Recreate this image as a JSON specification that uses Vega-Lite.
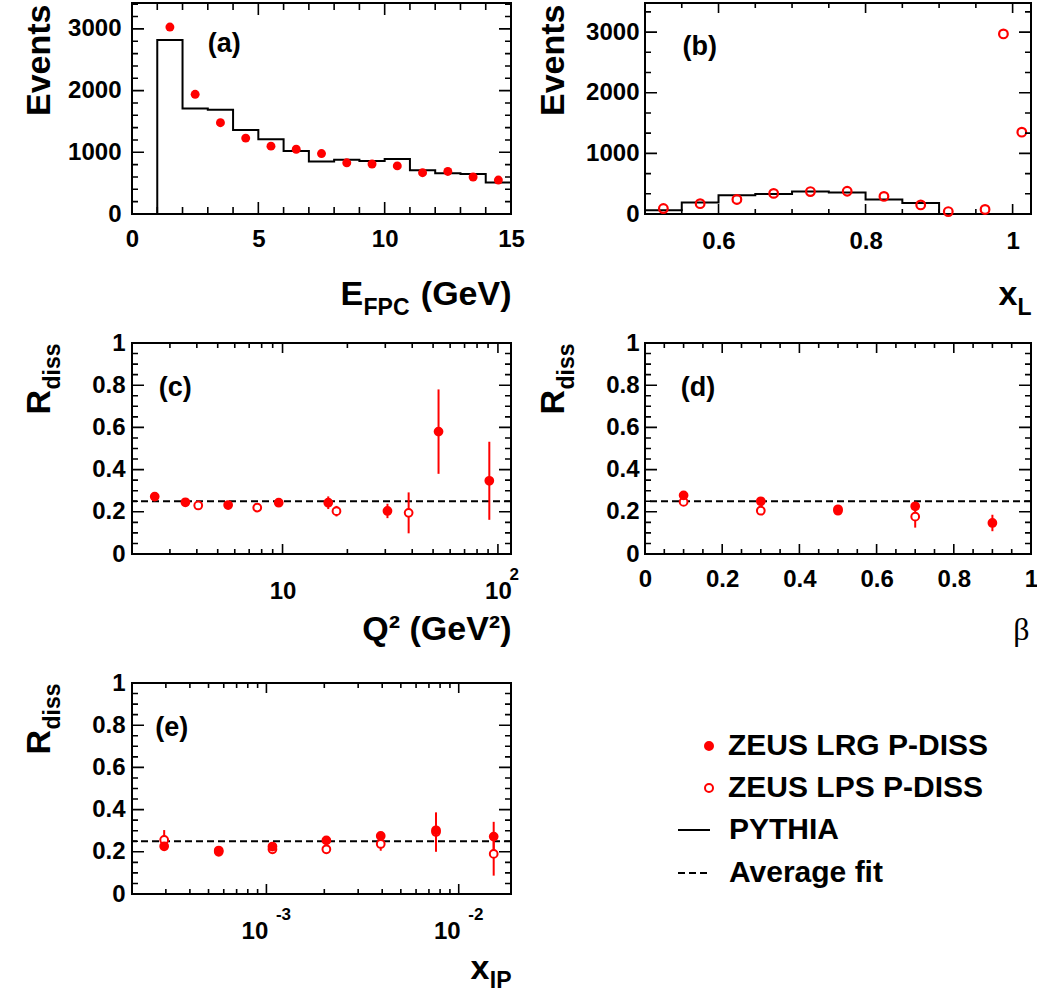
{
  "$schema": "https://vega.github.io/schema/vega-lite/v6.json",
  "background": "white",
  "padding": {"left": 21, "top": 1, "right": 5, "bottom": 5},
  "columns": 2,
  "spacing": {"row": 129, "column": 134},
  "bounds": "flush",
  "datasets": {
    "a_hist": [
      {"e": 0, "n": 0}, {"e": 1, "n": 2820}, {"e": 2, "n": 1710}, {"e": 3, "n": 1690}, {"e": 4, "n": 1360},
      {"e": 5, "n": 1210}, {"e": 6, "n": 1020}, {"e": 7, "n": 850}, {"e": 8, "n": 880}, {"e": 9, "n": 860},
      {"e": 10, "n": 890}, {"e": 11, "n": 710}, {"e": 12, "n": 660}, {"e": 13, "n": 650}, {"e": 14, "n": 510},
      {"e": 15, "n": 510}
    ],
    "a_pts": [
      {"x": 1.5, "n": 3030}, {"x": 2.5, "n": 1940}, {"x": 3.5, "n": 1480}, {"x": 4.5, "n": 1230},
      {"x": 5.5, "n": 1100}, {"x": 6.5, "n": 1050}, {"x": 7.5, "n": 980}, {"x": 8.5, "n": 830},
      {"x": 9.5, "n": 810}, {"x": 10.5, "n": 780}, {"x": 11.5, "n": 670}, {"x": 12.5, "n": 690},
      {"x": 13.5, "n": 600}, {"x": 14.5, "n": 550}
    ],
    "b_hist": [
      {"x": 0.5, "n": 60}, {"x": 0.55, "n": 190}, {"x": 0.6, "n": 310}, {"x": 0.65, "n": 330},
      {"x": 0.7, "n": 370}, {"x": 0.75, "n": 355}, {"x": 0.8, "n": 240}, {"x": 0.85, "n": 180},
      {"x": 0.9, "n": 0}
    ],
    "b_pts": [
      {"x": 0.525, "n": 90}, {"x": 0.575, "n": 170}, {"x": 0.625, "n": 240}, {"x": 0.675, "n": 340},
      {"x": 0.725, "n": 370}, {"x": 0.775, "n": 375}, {"x": 0.825, "n": 290}, {"x": 0.875, "n": 150},
      {"x": 0.9125, "n": 40}, {"x": 0.9625, "n": 75}, {"x": 0.9875, "n": 2970}, {"x": 1.0125, "n": 1350}
    ],
    "fit": [{"r": 0.25, "series": "Average fit"}],
    "lab_a": [{"t": "(a)"}],
    "lab_b": [{"t": "(b)"}],
    "lab_c": [{"t": "(c)"}],
    "lab_d": [{"t": "(d)"}],
    "lab_e": [{"t": "(e)"}],
    "tk_a_x": [
      {"v": 0, "k": "major"}, {"v": 1, "k": "minor"}, {"v": 2, "k": "minor"}, {"v": 3, "k": "minor"}, {"v": 4, "k": "minor"},
      {"v": 5, "k": "major"}, {"v": 6, "k": "minor"}, {"v": 7, "k": "minor"}, {"v": 8, "k": "minor"}, {"v": 9, "k": "minor"},
      {"v": 10, "k": "major"}, {"v": 11, "k": "minor"}, {"v": 12, "k": "minor"}, {"v": 13, "k": "minor"}, {"v": 14, "k": "minor"},
      {"v": 15, "k": "major"}
    ],
    "tk_a_y": [
      {"v": 0, "k": "major"}, {"v": 200, "k": "minor"}, {"v": 400, "k": "minor"}, {"v": 600, "k": "minor"}, {"v": 800, "k": "minor"},
      {"v": 1000, "k": "major"}, {"v": 1200, "k": "minor"}, {"v": 1400, "k": "minor"}, {"v": 1600, "k": "minor"}, {"v": 1800, "k": "minor"},
      {"v": 2000, "k": "major"}, {"v": 2200, "k": "minor"}, {"v": 2400, "k": "minor"}, {"v": 2600, "k": "minor"}, {"v": 2800, "k": "minor"},
      {"v": 3000, "k": "major"}, {"v": 3200, "k": "minor"}, {"v": 3400, "k": "minor"}
    ],
    "tk_b_x": [
      {"v": 0.5, "k": "minor"}, {"v": 0.55, "k": "minor"}, {"v": 0.6, "k": "major"}, {"v": 0.65, "k": "minor"},
      {"v": 0.7, "k": "minor"}, {"v": 0.75, "k": "minor"}, {"v": 0.8, "k": "major"}, {"v": 0.85, "k": "minor"},
      {"v": 0.9, "k": "minor"}, {"v": 0.95, "k": "minor"}, {"v": 1, "k": "major"}
    ],
    "tk_b_y": [
      {"v": 0, "k": "major"}, {"v": 333.333, "k": "minor"}, {"v": 666.667, "k": "minor"},
      {"v": 1000, "k": "major"}, {"v": 1333.333, "k": "minor"}, {"v": 1666.667, "k": "minor"},
      {"v": 2000, "k": "major"}, {"v": 2333.333, "k": "minor"}, {"v": 2666.667, "k": "minor"},
      {"v": 3000, "k": "major"}, {"v": 3333.333, "k": "minor"}
    ],
    "tk_r": [
      {"v": 0, "k": "major"}, {"v": 0.05, "k": "minor"}, {"v": 0.1, "k": "minor"}, {"v": 0.15, "k": "minor"},
      {"v": 0.2, "k": "major"}, {"v": 0.25, "k": "minor"}, {"v": 0.3, "k": "minor"}, {"v": 0.35, "k": "minor"},
      {"v": 0.4, "k": "major"}, {"v": 0.45, "k": "minor"}, {"v": 0.5, "k": "minor"}, {"v": 0.55, "k": "minor"},
      {"v": 0.6, "k": "major"}, {"v": 0.65, "k": "minor"}, {"v": 0.7, "k": "minor"}, {"v": 0.75, "k": "minor"},
      {"v": 0.8, "k": "major"}, {"v": 0.85, "k": "minor"}, {"v": 0.9, "k": "minor"}, {"v": 0.95, "k": "minor"},
      {"v": 1, "k": "major"}
    ],
    "tk_c_x": [
      {"v": 2, "k": "minor"}, {"v": 3, "k": "minor"}, {"v": 4, "k": "minor"}, {"v": 5, "k": "minor"},
      {"v": 6, "k": "minor"}, {"v": 7, "k": "minor"}, {"v": 8, "k": "minor"}, {"v": 9, "k": "minor"},
      {"v": 10, "k": "major"}, {"v": 20, "k": "minor"}, {"v": 30, "k": "minor"}, {"v": 40, "k": "minor"},
      {"v": 50, "k": "minor"}, {"v": 60, "k": "minor"}, {"v": 70, "k": "minor"}, {"v": 80, "k": "minor"},
      {"v": 90, "k": "minor"}, {"v": 100, "k": "major"}
    ],
    "tk_e_x": [
      {"v": 0.0002, "k": "minor"}, {"v": 0.0003, "k": "minor"}, {"v": 0.0004, "k": "minor"}, {"v": 0.0005, "k": "minor"},
      {"v": 0.0006, "k": "minor"}, {"v": 0.0007, "k": "minor"}, {"v": 0.0008, "k": "minor"}, {"v": 0.0009, "k": "minor"},
      {"v": 0.001, "k": "major"}, {"v": 0.002, "k": "minor"}, {"v": 0.003, "k": "minor"}, {"v": 0.004, "k": "minor"},
      {"v": 0.005, "k": "minor"}, {"v": 0.006, "k": "minor"}, {"v": 0.007, "k": "minor"}, {"v": 0.008, "k": "minor"},
      {"v": 0.009, "k": "minor"}, {"v": 0.01, "k": "major"}
    ],
    "c": [
      {"q": 4.06, "r": 0.23, "lo": 0.222, "hi": 0.238, "series": "ZEUS LPS P-DISS"},
      {"q": 7.63, "r": 0.22, "lo": 0.212, "hi": 0.228, "series": "ZEUS LPS P-DISS"},
      {"q": 17.8, "r": 0.203, "lo": 0.178, "hi": 0.228, "series": "ZEUS LPS P-DISS"},
      {"q": 38.5, "r": 0.195, "lo": 0.098, "hi": 0.292, "series": "ZEUS LPS P-DISS"},
      {"q": 2.55, "r": 0.272, "lo": 0.262, "hi": 0.282, "series": "ZEUS LRG P-DISS"},
      {"q": 3.54, "r": 0.245, "lo": 0.237, "hi": 0.253, "series": "ZEUS LRG P-DISS"},
      {"q": 5.59, "r": 0.232, "lo": 0.224, "hi": 0.24, "series": "ZEUS LRG P-DISS"},
      {"q": 9.6, "r": 0.243, "lo": 0.235, "hi": 0.251, "series": "ZEUS LRG P-DISS"},
      {"q": 16.3, "r": 0.243, "lo": 0.213, "hi": 0.273, "series": "ZEUS LRG P-DISS"},
      {"q": 30.7, "r": 0.204, "lo": 0.17, "hi": 0.238, "series": "ZEUS LRG P-DISS"},
      {"q": 53, "r": 0.58, "lo": 0.38, "hi": 0.78, "series": "ZEUS LRG P-DISS"},
      {"q": 91.2, "r": 0.347, "lo": 0.162, "hi": 0.532, "series": "ZEUS LRG P-DISS"}
    ],
    "d": [
      {"b": 0.1, "r": 0.247, "lo": 0.24, "hi": 0.254, "series": "ZEUS LPS P-DISS"},
      {"b": 0.3, "r": 0.205, "lo": 0.185, "hi": 0.225, "series": "ZEUS LPS P-DISS"},
      {"b": 0.5, "r": 0.212, "lo": 0.2, "hi": 0.224, "series": "ZEUS LPS P-DISS"},
      {"b": 0.7, "r": 0.177, "lo": 0.125, "hi": 0.225, "series": "ZEUS LPS P-DISS"},
      {"b": 0.1, "r": 0.278, "lo": 0.27, "hi": 0.286, "series": "ZEUS LRG P-DISS"},
      {"b": 0.3, "r": 0.25, "lo": 0.242, "hi": 0.258, "series": "ZEUS LRG P-DISS"},
      {"b": 0.5, "r": 0.205, "lo": 0.188, "hi": 0.232, "series": "ZEUS LRG P-DISS"},
      {"b": 0.7, "r": 0.226, "lo": 0.218, "hi": 0.234, "series": "ZEUS LRG P-DISS"},
      {"b": 0.9, "r": 0.147, "lo": 0.108, "hi": 0.186, "series": "ZEUS LRG P-DISS"}
    ],
    "e": [
      {"xp": 0.000294, "r": 0.256, "lo": 0.21, "hi": 0.303, "series": "ZEUS LPS P-DISS"},
      {"xp": 0.000565, "r": 0.2, "lo": 0.19, "hi": 0.21, "series": "ZEUS LPS P-DISS"},
      {"xp": 0.001075, "r": 0.212, "lo": 0.202, "hi": 0.222, "series": "ZEUS LPS P-DISS"},
      {"xp": 0.00205, "r": 0.212, "lo": 0.202, "hi": 0.222, "series": "ZEUS LPS P-DISS"},
      {"xp": 0.00393, "r": 0.237, "lo": 0.205, "hi": 0.265, "series": "ZEUS LPS P-DISS"},
      {"xp": 0.00762, "r": 0.294, "lo": 0.2, "hi": 0.387, "series": "ZEUS LPS P-DISS"},
      {"xp": 0.0152, "r": 0.19, "lo": 0.087, "hi": 0.293, "series": "ZEUS LPS P-DISS"},
      {"xp": 0.000294, "r": 0.226, "lo": 0.218, "hi": 0.234, "series": "ZEUS LRG P-DISS"},
      {"xp": 0.000565, "r": 0.206, "lo": 0.198, "hi": 0.214, "series": "ZEUS LRG P-DISS"},
      {"xp": 0.001075, "r": 0.225, "lo": 0.217, "hi": 0.233, "series": "ZEUS LRG P-DISS"},
      {"xp": 0.00205, "r": 0.254, "lo": 0.246, "hi": 0.262, "series": "ZEUS LRG P-DISS"},
      {"xp": 0.00393, "r": 0.275, "lo": 0.267, "hi": 0.283, "series": "ZEUS LRG P-DISS"},
      {"xp": 0.00762, "r": 0.302, "lo": 0.26, "hi": 0.345, "series": "ZEUS LRG P-DISS"},
      {"xp": 0.0152, "r": 0.272, "lo": 0.2, "hi": 0.342, "series": "ZEUS LRG P-DISS"}
    ]
  },
  "concat": [
    {
      "width": 379, "height": 211,
      "resolve": {"axis": {"x": "independent", "y": "independent"}},
      "layer": [
        {
          "data": {"name": "a_hist"},
          "mark": {"type": "line", "interpolate": "step-after", "color": "black", "strokeWidth": 2},
          "encoding": {
            "x": {"field": "e", "type": "quantitative", "scale": {"domain": [0, 15], "nice": false, "zero": false},
              "axis": {"orient": "bottom", "values": [0, 5, 10, 15], "format": "d", "tickSize": 0, "tickOpacity": 0,
                "labelPadding": 32, "labelBaseline": "alphabetic",
                "title": "E", "titleFontSize": 34, "titleX": 208, "titleY": 90, "titleAlign": "left", "titleBaseline": "alphabetic", "titleAngle": 0}},
            "y": {"field": "n", "type": "quantitative", "scale": {"domain": [0, 3420], "nice": false},
              "axis": {"orient": "left", "values": [0, 1000, 2000, 3000], "format": "d", "tickSize": 0, "tickOpacity": 0,
                "labelPadding": 11,
                "title": "Events", "titleFontSize": 34, "titleX": -83, "titleY": 1, "titleAlign": "right", "titleBaseline": "alphabetic", "titleAngle": 270}}
          }
        },
        {
          "data": {"name": "a_pts"},
          "mark": {"type": "circle", "color": "red", "size": 80, "opacity": 1},
          "encoding": {
            "x": {"field": "x", "type": "quantitative", "scale": {"domain": [0, 15], "nice": false, "zero": false},
              "axis": {"orient": "top", "ticks": false, "labels": false,
                "title": "(GeV)", "titleFontSize": 34, "titleX": 379, "titleY": 301, "titleAlign": "right", "titleBaseline": "alphabetic", "titleAngle": 0}},
            "y": {"field": "n", "type": "quantitative", "scale": {"domain": [0, 3420], "nice": false}, "axis": null}
          }
        },
        {
          "data": {"name": "lab_a"},
          "mark": {"type": "text", "font": "Liberation Sans", "fontWeight": "bold", "fontSize": 27, "align": "left", "baseline": "alphabetic", "color": "black"},
          "encoding": {
            "text": {"field": "t", "type": "nominal"},
            "x": {"datum": 3.0, "axis": {"orient": "bottom", "ticks": false, "labels": false,
              "title": "FPC", "titleFontSize": 23, "titleX": 231, "titleY": 100, "titleAlign": "left", "titleBaseline": "alphabetic", "titleAngle": 0}},
            "y": {"datum": 2620, "axis": null}
          }
        },
        {
          "data": {"name": "tk_a_y"}, "transform": [{"filter": "datum.k === 'major'"}],
          "mark": {"type": "rule", "color": "black", "strokeWidth": 1.6, "strokeDash": [12, 355, 12]},
          "encoding": {"y": {"field": "v", "type": "quantitative", "scale": {"domain": [0, 3420], "nice": false}, "axis": null}}
        },
        {
          "data": {"name": "tk_a_y"}, "transform": [{"filter": "datum.k === 'minor'"}],
          "mark": {"type": "rule", "color": "black", "strokeWidth": 1.6, "strokeDash": [6, 367, 6]},
          "encoding": {"y": {"field": "v", "type": "quantitative", "scale": {"domain": [0, 3420], "nice": false}, "axis": null}}
        },
        {
          "data": {"name": "tk_a_x"}, "transform": [{"filter": "datum.k === 'major'"}],
          "mark": {"type": "rule", "color": "black", "strokeWidth": 1.6, "strokeDash": [12, 187, 12]},
          "encoding": {"x": {"field": "v", "type": "quantitative", "scale": {"domain": [0, 15], "nice": false, "zero": false}, "axis": null}}
        },
        {
          "data": {"name": "tk_a_x"}, "transform": [{"filter": "datum.k === 'minor'"}],
          "mark": {"type": "rule", "color": "black", "strokeWidth": 1.6, "strokeDash": [7, 197, 7]},
          "encoding": {"x": {"field": "v", "type": "quantitative", "scale": {"domain": [0, 15], "nice": false, "zero": false}, "axis": null}}
        }
      ]
    },
    {
      "width": 386, "height": 211,
      "resolve": {"axis": {"x": "independent", "y": "independent"}},
      "layer": [
        {
          "data": {"name": "b_hist"},
          "mark": {"type": "line", "interpolate": "step-after", "color": "black", "strokeWidth": 2},
          "encoding": {
            "x": {"field": "x", "type": "quantitative", "scale": {"domain": [0.5, 1.025], "nice": false, "zero": false},
              "axis": {"orient": "bottom", "values": [0.6, 0.8, 1], "format": "~g", "tickSize": 0, "tickOpacity": 0,
                "labelPadding": 34, "labelBaseline": "alphabetic",
                "title": "x", "titleFontSize": 34, "titleX": 353, "titleY": 90, "titleAlign": "left", "titleBaseline": "alphabetic", "titleAngle": 0}},
            "y": {"field": "n", "type": "quantitative", "scale": {"domain": [0, 3480], "nice": false},
              "axis": {"orient": "left", "values": [0, 1000, 2000, 3000], "format": "d", "tickSize": 0, "tickOpacity": 0,
                "labelPadding": 6,
                "title": "Events", "titleFontSize": 34, "titleX": -82, "titleY": 1, "titleAlign": "right", "titleBaseline": "alphabetic", "titleAngle": 270}}
          }
        },
        {
          "data": {"name": "b_pts"},
          "mark": {"type": "point", "shape": "circle", "filled": false, "color": "red", "strokeWidth": 2.2, "size": 75, "opacity": 1},
          "encoding": {
            "x": {"field": "x", "type": "quantitative", "scale": {"domain": [0.5, 1.025], "nice": false, "zero": false}, "axis": null},
            "y": {"field": "n", "type": "quantitative", "scale": {"domain": [0, 3480], "nice": false}, "axis": null}
          }
        },
        {
          "data": {"name": "lab_b"},
          "mark": {"type": "text", "font": "Liberation Sans", "fontWeight": "bold", "fontSize": 27, "align": "left", "baseline": "alphabetic", "color": "black"},
          "encoding": {
            "text": {"field": "t", "type": "nominal"},
            "x": {"datum": 0.551, "axis": {"orient": "bottom", "ticks": false, "labels": false,
              "title": "L", "titleFontSize": 23, "titleX": 372, "titleY": 100, "titleAlign": "left", "titleBaseline": "alphabetic", "titleAngle": 0}},
            "y": {"datum": 2620, "axis": null}
          }
        },
        {
          "data": {"name": "tk_b_y"}, "transform": [{"filter": "datum.k === 'major'"}],
          "mark": {"type": "rule", "color": "black", "strokeWidth": 1.6, "strokeDash": [12, 362, 12]},
          "encoding": {"y": {"field": "v", "type": "quantitative", "scale": {"domain": [0, 3480], "nice": false}, "axis": null}}
        },
        {
          "data": {"name": "tk_b_y"}, "transform": [{"filter": "datum.k === 'minor'"}],
          "mark": {"type": "rule", "color": "black", "strokeWidth": 1.6, "strokeDash": [6, 374, 6]},
          "encoding": {"y": {"field": "v", "type": "quantitative", "scale": {"domain": [0, 3480], "nice": false}, "axis": null}}
        },
        {
          "data": {"name": "tk_b_x"}, "transform": [{"filter": "datum.k === 'major'"}],
          "mark": {"type": "rule", "color": "black", "strokeWidth": 1.6, "strokeDash": [10, 191, 10]},
          "encoding": {"x": {"field": "v", "type": "quantitative", "scale": {"domain": [0.5, 1.025], "nice": false, "zero": false}, "axis": null}}
        },
        {
          "data": {"name": "tk_b_x"}, "transform": [{"filter": "datum.k === 'minor'"}],
          "mark": {"type": "rule", "color": "black", "strokeWidth": 1.6, "strokeDash": [5, 201, 5]},
          "encoding": {"x": {"field": "v", "type": "quantitative", "scale": {"domain": [0.5, 1.025], "nice": false, "zero": false}, "axis": null}}
        }
      ]
    },
    {
      "width": 379, "height": 211,
      "resolve": {"axis": {"x": "independent", "y": "independent"}},
      "layer": [
        {
          "data": {"name": "fit"},
          "mark": {"type": "rule", "color": "black", "strokeWidth": 2, "strokeDash": [7, 4]},
          "encoding": {
            "y": {"field": "r", "type": "quantitative", "scale": {"domain": [0, 1], "nice": false},
              "axis": {"orient": "left", "values": [0, 0.2, 0.4, 0.6, 0.8, 1], "format": "~g", "tickSize": 0, "tickOpacity": 0,
                "labelPadding": 7,
                "title": "R", "titleFontSize": 34, "titleX": -83, "titleY": 71, "titleAlign": "left", "titleBaseline": "alphabetic", "titleAngle": 270}}
          }
        },
        {
          "data": {"name": "c"},
          "mark": {"type": "rule", "color": "red", "strokeWidth": 2},
          "encoding": {
            "x": {"field": "q", "type": "quantitative", "scale": {"type": "log", "domain": [2, 115], "nice": false},
              "axis": {"orient": "bottom", "values": [10, 100], "labelExpr": "'10'", "tickSize": 0, "tickOpacity": 0,
                "labelPadding": 44, "labelBaseline": "alphabetic",
                "title": "Q² (GeV²)", "titleFontSize": 34, "titleX": 379, "titleY": 85, "titleAlign": "right", "titleBaseline": "alphabetic", "titleAngle": 0}},
            "y": {"field": "lo", "type": "quantitative", "scale": {"domain": [0, 1], "nice": false}, "axis": null},
            "y2": {"field": "hi"}
          }
        },
        {
          "data": {"name": "c"},
          "mark": {"type": "point", "filled": true, "strokeWidth": 2, "size": 60, "opacity": 1, "shape": "circle"},
          "encoding": {
            "x": {"field": "q", "type": "quantitative", "scale": {"type": "log", "domain": [2, 115], "nice": false}, "axis": null},
            "y": {"field": "r", "type": "quantitative", "scale": {"domain": [0, 1], "nice": false},
              "axis": {"orient": "left", "ticks": false, "labels": false,
                "title": "diss", "titleFontSize": 23, "titleX": -73, "titleY": 46, "titleAlign": "left", "titleBaseline": "alphabetic", "titleAngle": 270}},
            "fill": {"field": "series", "type": "nominal",
              "scale": {"domain": ["ZEUS LRG P-DISS", "ZEUS LPS P-DISS"], "range": ["red", "white"]},
              "legend": {"orient": "none", "legendX": 562, "legendY": 728, "title": null, "padding": 0,
                "labelFont": "Liberation Sans", "labelFontWeight": "bold", "labelFontSize": 30, "labelColor": "black", "labelLimit": 0,
                "symbolType": "circle", "symbolSize": 64, "symbolStrokeWidth": 2, "symbolStrokeColor": "red", "symbolOpacity": 1,
                "rowPadding": 12, "labelOffset": 4}},
            "stroke": {"value": "red"}
          }
        },
        {
          "data": {"name": "lab_c"},
          "mark": {"type": "text", "font": "Liberation Sans", "fontWeight": "bold", "fontSize": 27, "align": "left", "baseline": "alphabetic", "color": "black"},
          "encoding": {
            "text": {"field": "t", "type": "nominal"},
            "x": {"datum": 2.66, "axis": {"orient": "bottom", "values": [100], "tickSize": 0, "tickOpacity": 0,
              "labelExpr": "'2'", "labelFontSize": 17, "labelPadding": 25, "labelBaseline": "alphabetic", "labelAlign": "left", "labelOffset": 11, "title": null}},
            "y": {"datum": 0.747, "axis": null}
          }
        },
        {
          "data": {"name": "tk_r"}, "transform": [{"filter": "datum.k === 'major'"}],
          "mark": {"type": "rule", "color": "black", "strokeWidth": 1.6, "strokeDash": [12, 355, 12]},
          "encoding": {"y": {"field": "v", "type": "quantitative", "scale": {"domain": [0, 1], "nice": false}, "axis": null}}
        },
        {
          "data": {"name": "tk_r"}, "transform": [{"filter": "datum.k === 'minor'"}],
          "mark": {"type": "rule", "color": "black", "strokeWidth": 1.6, "strokeDash": [6, 367, 6]},
          "encoding": {"y": {"field": "v", "type": "quantitative", "scale": {"domain": [0, 1], "nice": false}, "axis": null}}
        },
        {
          "data": {"name": "tk_c_x"}, "transform": [{"filter": "datum.k === 'major'"}],
          "mark": {"type": "rule", "color": "black", "strokeWidth": 1.6, "strokeDash": [10, 191, 10]},
          "encoding": {"x": {"field": "v", "type": "quantitative", "scale": {"type": "log", "domain": [2, 115], "nice": false}, "axis": null}}
        },
        {
          "data": {"name": "tk_c_x"}, "transform": [{"filter": "datum.k === 'minor'"}],
          "mark": {"type": "rule", "color": "black", "strokeWidth": 1.6, "strokeDash": [5, 201, 5]},
          "encoding": {"x": {"field": "v", "type": "quantitative", "scale": {"type": "log", "domain": [2, 115], "nice": false}, "axis": null}}
        }
      ]
    },
    {
      "width": 386, "height": 211,
      "resolve": {"axis": {"x": "independent", "y": "independent"}},
      "layer": [
        {
          "data": {"name": "fit"},
          "mark": {"type": "rule", "color": "black", "strokeWidth": 2, "strokeDash": [7, 4]},
          "encoding": {
            "y": {"field": "r", "type": "quantitative", "scale": {"domain": [0, 1], "nice": false},
              "axis": {"orient": "left", "values": [0, 0.2, 0.4, 0.6, 0.8, 1], "format": "~g", "tickSize": 0, "tickOpacity": 0,
                "labelPadding": 6,
                "title": "R", "titleFontSize": 34, "titleX": -82, "titleY": 71, "titleAlign": "left", "titleBaseline": "alphabetic", "titleAngle": 270}}
          }
        },
        {
          "data": {"name": "d"},
          "mark": {"type": "rule", "color": "red", "strokeWidth": 2},
          "encoding": {
            "x": {"field": "b", "type": "quantitative", "scale": {"domain": [0, 1], "nice": false},
              "axis": {"orient": "bottom", "values": [0, 0.2, 0.4, 0.6, 0.8, 1], "format": "~g", "tickSize": 0, "tickOpacity": 0,
                "labelPadding": 32, "labelBaseline": "alphabetic",
                "title": "β", "titleFont": "Liberation Serif", "titleFontWeight": "normal", "titleFontSize": 32, "titleX": 384, "titleY": 85, "titleAlign": "right", "titleBaseline": "alphabetic", "titleAngle": 0}},
            "y": {"field": "lo", "type": "quantitative", "scale": {"domain": [0, 1], "nice": false}, "axis": null},
            "y2": {"field": "hi"}
          }
        },
        {
          "data": {"name": "d"},
          "mark": {"type": "point", "filled": true, "strokeWidth": 2, "size": 60, "opacity": 1, "shape": "circle"},
          "encoding": {
            "x": {"field": "b", "type": "quantitative", "scale": {"domain": [0, 1], "nice": false}, "axis": null},
            "y": {"field": "r", "type": "quantitative", "scale": {"domain": [0, 1], "nice": false},
              "axis": {"orient": "left", "ticks": false, "labels": false,
                "title": "diss", "titleFontSize": 23, "titleX": -72, "titleY": 46, "titleAlign": "left", "titleBaseline": "alphabetic", "titleAngle": 270}},
            "fill": {"field": "series", "type": "nominal",
              "scale": {"domain": ["ZEUS LRG P-DISS", "ZEUS LPS P-DISS"], "range": ["red", "white"]},
              "legend": {"orient": "none", "legendX": 562, "legendY": 728, "title": null, "padding": 0,
                "labelFont": "Liberation Sans", "labelFontWeight": "bold", "labelFontSize": 30, "labelColor": "black", "labelLimit": 0,
                "symbolType": "circle", "symbolSize": 64, "symbolStrokeWidth": 2, "symbolStrokeColor": "red", "symbolOpacity": 1,
                "rowPadding": 12, "labelOffset": 4}},
            "stroke": {"value": "red"}
          }
        },
        {
          "data": {"name": "lab_d"},
          "mark": {"type": "text", "font": "Liberation Sans", "fontWeight": "bold", "fontSize": 27, "align": "left", "baseline": "alphabetic", "color": "black"},
          "encoding": {
            "text": {"field": "t", "type": "nominal"},
            "x": {"datum": 0.0926, "axis": null},
            "y": {"datum": 0.747, "axis": null}
          }
        },
        {
          "data": {"name": "tk_r"}, "transform": [{"filter": "datum.k === 'major'"}],
          "mark": {"type": "rule", "color": "black", "strokeWidth": 1.6, "strokeDash": [12, 362, 12]},
          "encoding": {"y": {"field": "v", "type": "quantitative", "scale": {"domain": [0, 1], "nice": false}, "axis": null}}
        },
        {
          "data": {"name": "tk_r"}, "transform": [{"filter": "datum.k === 'minor'"}],
          "mark": {"type": "rule", "color": "black", "strokeWidth": 1.6, "strokeDash": [6, 374, 6]},
          "encoding": {"y": {"field": "v", "type": "quantitative", "scale": {"domain": [0, 1], "nice": false}, "axis": null}}
        },
        {
          "data": {"name": "tk_r"}, "transform": [{"filter": "datum.k === 'major'"}],
          "mark": {"type": "rule", "color": "black", "strokeWidth": 1.6, "strokeDash": [10, 191, 10]},
          "encoding": {"x": {"field": "v", "type": "quantitative", "scale": {"domain": [0, 1], "nice": false}, "axis": null}}
        },
        {
          "data": {"name": "tk_r"}, "transform": [{"filter": "datum.k === 'minor'"}],
          "mark": {"type": "rule", "color": "black", "strokeWidth": 1.6, "strokeDash": [5, 201, 5]},
          "encoding": {"x": {"field": "v", "type": "quantitative", "scale": {"domain": [0, 1], "nice": false}, "axis": null}}
        }
      ]
    },
    {
      "width": 379, "height": 211,
      "resolve": {"axis": {"x": "independent", "y": "independent"}},
      "layer": [
        {
          "data": {"name": "fit"},
          "mark": {"type": "rule", "color": "black", "strokeWidth": 2},
          "encoding": {
            "y": {"field": "r", "type": "quantitative", "scale": {"domain": [0, 1], "nice": false},
              "axis": {"orient": "left", "values": [0, 0.2, 0.4, 0.6, 0.8, 1], "format": "~g", "tickSize": 0, "tickOpacity": 0,
                "labelPadding": 7,
                "title": "R", "titleFontSize": 34, "titleX": -83, "titleY": 71, "titleAlign": "left", "titleBaseline": "alphabetic", "titleAngle": 270}},
            "strokeDash": {"field": "series", "type": "nominal",
              "scale": {"domain": ["PYTHIA", "Average fit"], "range": [[1, 0], [7, 4]]},
              "legend": {"orient": "none", "legendX": 545, "legendY": 810, "title": null, "padding": 0,
                "labelFont": "Liberation Sans", "labelFontWeight": "bold", "labelFontSize": 30, "labelColor": "black", "labelLimit": 0,
                "symbolType": "stroke", "symbolSize": 1024, "symbolStrokeWidth": 2, "symbolStrokeColor": "black", "symbolOpacity": 1,
                "rowPadding": 11, "labelOffset": 18}}
          }
        },
        {
          "data": {"name": "e"},
          "mark": {"type": "rule", "color": "red", "strokeWidth": 2},
          "encoding": {
            "x": {"field": "xp", "type": "quantitative", "scale": {"type": "log", "domain": [0.0002, 0.0187], "nice": false},
              "axis": {"orient": "bottom", "values": [0.001, 0.01], "labelExpr": "'10'", "tickSize": 0, "tickOpacity": 0,
                "labelPadding": 44, "labelBaseline": "alphabetic", "labelOffset": -12,
                "title": "x", "titleFontSize": 34, "titleX": 338, "titleY": 84, "titleAlign": "left", "titleBaseline": "alphabetic", "titleAngle": 0}},
            "y": {"field": "lo", "type": "quantitative", "scale": {"domain": [0, 1], "nice": false}, "axis": null},
            "y2": {"field": "hi"}
          }
        },
        {
          "data": {"name": "e"},
          "mark": {"type": "point", "filled": true, "strokeWidth": 2, "size": 60, "opacity": 1, "shape": "circle"},
          "encoding": {
            "x": {"field": "xp", "type": "quantitative", "scale": {"type": "log", "domain": [0.0002, 0.0187], "nice": false}, "axis": null},
            "y": {"field": "r", "type": "quantitative", "scale": {"domain": [0, 1], "nice": false},
              "axis": {"orient": "left", "ticks": false, "labels": false,
                "title": "diss", "titleFontSize": 23, "titleX": -73, "titleY": 46, "titleAlign": "left", "titleBaseline": "alphabetic", "titleAngle": 270}},
            "fill": {"field": "series", "type": "nominal",
              "scale": {"domain": ["ZEUS LRG P-DISS", "ZEUS LPS P-DISS"], "range": ["red", "white"]},
              "legend": {"orient": "none", "legendX": 562, "legendY": 728, "title": null, "padding": 0,
                "labelFont": "Liberation Sans", "labelFontWeight": "bold", "labelFontSize": 30, "labelColor": "black", "labelLimit": 0,
                "symbolType": "circle", "symbolSize": 64, "symbolStrokeWidth": 2, "symbolStrokeColor": "red", "symbolOpacity": 1,
                "rowPadding": 12, "labelOffset": 4}},
            "stroke": {"value": "red"}
          }
        },
        {
          "data": {"name": "lab_e"},
          "mark": {"type": "text", "font": "Liberation Sans", "fontWeight": "bold", "fontSize": 27, "align": "left", "baseline": "alphabetic", "color": "black"},
          "encoding": {
            "text": {"field": "t", "type": "nominal"},
            "x": {"datum": 0.000264, "axis": {"orient": "bottom", "values": [0.001, 0.01], "tickSize": 0, "tickOpacity": 0,
              "labelExpr": "datum.value < 0.005 ? '-3' : '-2'", "labelFontSize": 17, "labelPadding": 25, "labelBaseline": "alphabetic", "labelAlign": "left", "labelOffset": 9,
              "title": "IP", "titleFontSize": 23, "titleX": 379, "titleY": 93, "titleAlign": "right", "titleBaseline": "alphabetic", "titleAngle": 0}},
            "y": {"datum": 0.747, "axis": null}
          }
        },
        {
          "data": {"name": "tk_r"}, "transform": [{"filter": "datum.k === 'major'"}],
          "mark": {"type": "rule", "color": "black", "strokeWidth": 1.6, "strokeDash": [12, 355, 12]},
          "encoding": {"y": {"field": "v", "type": "quantitative", "scale": {"domain": [0, 1], "nice": false}, "axis": null}}
        },
        {
          "data": {"name": "tk_r"}, "transform": [{"filter": "datum.k === 'minor'"}],
          "mark": {"type": "rule", "color": "black", "strokeWidth": 1.6, "strokeDash": [6, 367, 6]},
          "encoding": {"y": {"field": "v", "type": "quantitative", "scale": {"domain": [0, 1], "nice": false}, "axis": null}}
        },
        {
          "data": {"name": "tk_e_x"}, "transform": [{"filter": "datum.k === 'major'"}],
          "mark": {"type": "rule", "color": "black", "strokeWidth": 1.6, "strokeDash": [10, 191, 10]},
          "encoding": {"x": {"field": "v", "type": "quantitative", "scale": {"type": "log", "domain": [0.0002, 0.0187], "nice": false}, "axis": null}}
        },
        {
          "data": {"name": "tk_e_x"}, "transform": [{"filter": "datum.k === 'minor'"}],
          "mark": {"type": "rule", "color": "black", "strokeWidth": 1.6, "strokeDash": [5, 201, 5]},
          "encoding": {"x": {"field": "v", "type": "quantitative", "scale": {"type": "log", "domain": [0.0002, 0.0187], "nice": false}, "axis": null}}
        }
      ]
    }
  ],
  "config": {
    "view": {"stroke": "black", "strokeWidth": 2, "fill": "transparent"},
    "axis": {"domain": false, "grid": false, "zindex": 1,
      "labelFont": "Liberation Sans", "labelFontWeight": "bold", "labelFontSize": 24, "labelColor": "black",
      "titleFont": "Liberation Sans", "titleFontWeight": "bold", "titleColor": "black",
      "labelFlush": false, "labelOverlap": false},
    "text": {"font": "Liberation Sans"}
  }
}
